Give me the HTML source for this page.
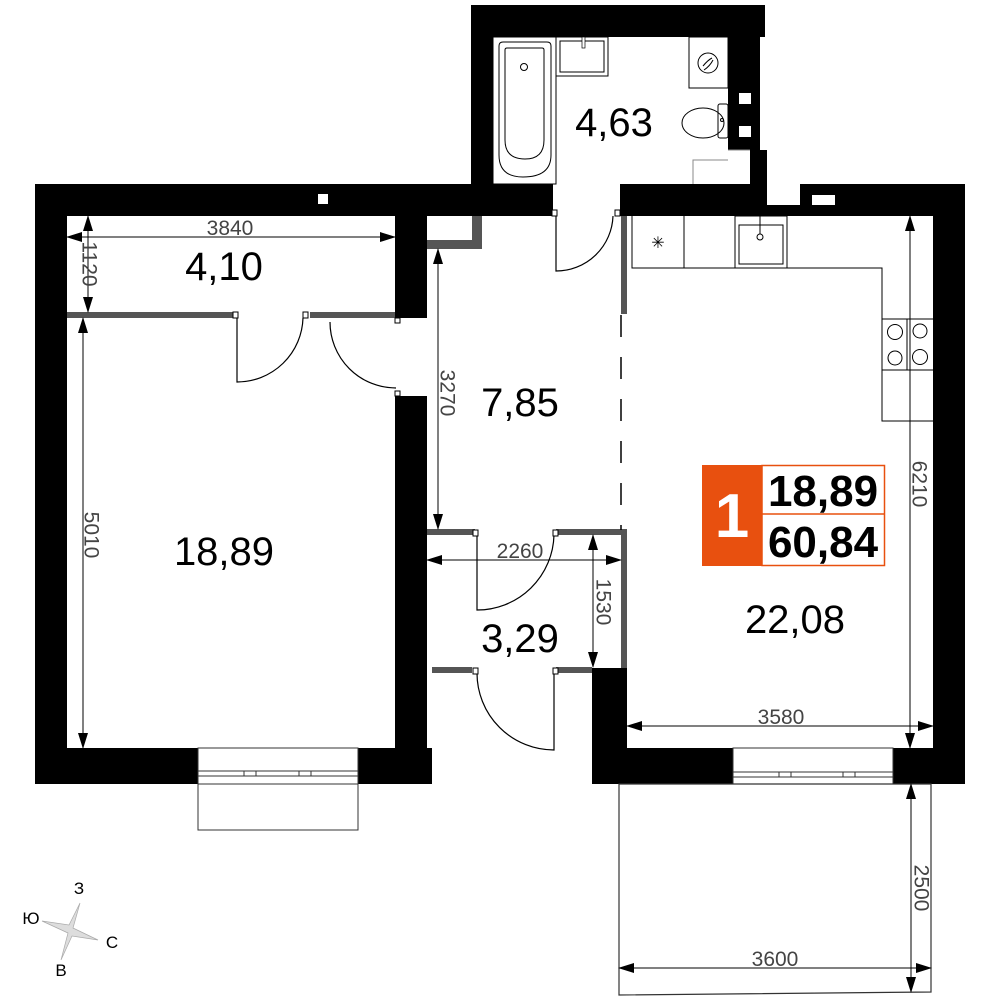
<!DOCTYPE html>
<html><head><meta charset="utf-8"><style>
html,body{margin:0;padding:0;background:#fff;}
svg{display:block;}
text{font-family:"Liberation Sans",sans-serif;}
</style></head><body>
<svg width="1000" height="1000" viewBox="0 0 1000 1000" xmlns="http://www.w3.org/2000/svg">
<rect width="1000" height="1000" fill="#fff"/>
<g fill="#000">
<rect x="35" y="184" width="397" height="32"/>
<rect x="35" y="184" width="32" height="600"/>
<rect x="395" y="184" width="32" height="134"/>
<rect x="395" y="396" width="32" height="388"/>
<rect x="35" y="748" width="163" height="36"/>
<rect x="358" y="748" width="74" height="36"/>
<rect x="471" y="5" width="294" height="32"/>
<rect x="471" y="5" width="22" height="211"/>
<rect x="728" y="5" width="32" height="145"/>
<rect x="750" y="150" width="17" height="40"/>
<rect x="427" y="184" width="126" height="32"/>
<rect x="620" y="184" width="147" height="32"/>
<rect x="767" y="205" width="33" height="11"/>
<rect x="800" y="184" width="165" height="32"/>
<rect x="933" y="184" width="32" height="600"/>
<rect x="592" y="668" width="35" height="116"/>
<rect x="592" y="748" width="141" height="36"/>
<rect x="893" y="748" width="72" height="36"/>
</g>
<g fill="#fff">
<rect x="318" y="194" width="10" height="10"/>
<rect x="812" y="195" width="23" height="10"/>
<rect x="739" y="93" width="12" height="11"/>
<rect x="739" y="126" width="12" height="11"/>
</g>
<g fill="#555">
<rect x="67" y="312" width="168" height="6"/>
<rect x="310" y="312" width="85" height="6"/>
<rect x="427" y="240" width="55" height="9"/>
<rect x="472" y="216" width="10" height="33"/>
<rect x="621" y="216" width="6" height="98"/>
<rect x="427" y="529" width="48" height="6"/>
<rect x="556" y="529" width="71" height="6"/>
<rect x="621" y="529" width="6" height="139"/>
<rect x="432" y="667" width="40" height="6"/>
<rect x="556" y="667" width="36" height="6"/>
</g>
<line x1="621" y1="315" x2="621" y2="530" stroke="#000" stroke-width="1.5" stroke-dasharray="22,20"/>
<g fill="none" stroke="#000" stroke-width="1.2">
<path d="M237 318 V382 A66 66 0 0 0 303 318"/>
<path d="M330 322 A66 66 0 0 0 396 388"/>
<path d="M556 216 V271 A57 57 0 0 0 613 216"/>
<path d="M477 535 V610 A77 77 0 0 0 554 535"/>
<path d="M477 673 A77 77 0 0 0 554 750 V673"/>
</g>
<g fill="#fff" stroke="#000" stroke-width="1">
<rect x="233" y="312" width="5" height="6"/><rect x="303" y="312" width="5" height="6"/>
<rect x="395" y="318" width="5" height="5"/><rect x="395" y="391" width="5" height="5"/>
<rect x="552" y="210" width="5" height="6"/><rect x="615" y="210" width="5" height="6"/>
<rect x="473" y="530" width="5" height="6"/><rect x="553" y="530" width="5" height="6"/>
<rect x="473" y="668" width="5" height="6"/><rect x="553" y="668" width="5" height="6"/>
</g>
<g fill="none" stroke="#000" stroke-width="1">
<rect x="493" y="37" width="63" height="147"/>
<path d="M499 46 Q499 42 503 42 H547 Q551 42 551 46 V155 Q551 177 523 177 Q499 177 499 155 Z"/>
<path d="M505 50 Q505 48 507 48 H542 Q544 48 544 50 V140 Q544 159 525 159 Q505 159 505 140 Z"/>
<circle cx="524" cy="67" r="3.5"/>
<rect x="556" y="37" width="52" height="39"/>
<rect x="560" y="41" width="44" height="31"/>
<rect x="689" y="37" width="39" height="51"/>
<circle cx="708" cy="63" r="10"/>
<path d="M703 66 Q708 60 712 58 M704 70 Q710 66 713 60"/>
<ellipse cx="703" cy="123" rx="21" ry="15"/>
<rect x="718" y="104" width="10" height="34" rx="2"/>
<polyline points="693,184 693,160 728,160" stroke="#888"/>
<polyline points="728,150 750,150" stroke="#888"/>
</g>
<circle cx="722" cy="120" r="1.5" fill="none" stroke="#000"/>
<rect x="582" y="37" width="3" height="11" fill="#fff" stroke="#000" stroke-width="0.7"/>
<g fill="none" stroke="#000" stroke-width="1">
<polyline points="632,216 632,268 882,268 882,421 933,421"/>
<line x1="684" y1="216" x2="684" y2="268"/>
<rect x="735" y="216" width="52" height="52"/>
<rect x="739" y="225" width="44" height="39"/>
<line x1="882" y1="319" x2="933" y2="319"/>
<line x1="882" y1="370" x2="933" y2="370"/>
<line x1="907" y1="319" x2="907" y2="370"/>
<circle cx="895" cy="332" r="7.5"/><circle cx="920" cy="331" r="7"/>
<circle cx="895" cy="358" r="7"/><circle cx="920" cy="357" r="7.5"/>
<circle cx="760" cy="237" r="3"/>
<line x1="760" y1="216" x2="760" y2="234"/>
</g>
<text x="658" y="248" font-size="16" text-anchor="middle">✳</text>
<g fill="#fff" stroke="#333" stroke-width="1">
<rect x="198" y="748" width="160" height="36"/>
<rect x="198" y="771" width="160" height="5"/>
<rect x="198" y="784" width="160" height="46"/>
<rect x="733" y="748" width="160" height="36"/>
<rect x="733" y="772" width="160" height="5"/>
</g>
<g stroke="#333" stroke-width="1">
<line x1="244" y1="771" x2="244" y2="776"/><line x1="256" y1="771" x2="256" y2="776"/>
<line x1="299" y1="771" x2="299" y2="776"/><line x1="311" y1="771" x2="311" y2="776"/>
<line x1="779" y1="772" x2="779" y2="777"/><line x1="791" y1="772" x2="791" y2="777"/>
<line x1="843" y1="772" x2="843" y2="777"/><line x1="855" y1="772" x2="855" y2="777"/>
</g>
<polygon points="619,784 931,784 931,992 619,995" fill="none" stroke="#333" stroke-width="1.2"/>
<defs><marker id="a" markerWidth="16" markerHeight="10" refX="15" refY="5" orient="auto-start-reverse" markerUnits="userSpaceOnUse"><path d="M0,0 L16,5 L0,10 Z" fill="#000"/></marker></defs>
<g stroke="#000" stroke-width="1" marker-start="url(#a)" marker-end="url(#a)">
<line x1="67" y1="237" x2="395" y2="237"/>
<line x1="88" y1="216" x2="88" y2="312"/>
<line x1="83" y1="318" x2="83" y2="748"/>
<line x1="438" y1="249" x2="438" y2="529"/>
<line x1="427" y1="560" x2="621" y2="560"/>
<line x1="593" y1="535" x2="593" y2="667"/>
<line x1="627" y1="726" x2="933" y2="726"/>
<line x1="910" y1="216" x2="910" y2="748"/>
<line x1="911" y1="784" x2="911" y2="992"/>
<line x1="619" y1="968" x2="931" y2="968"/>
</g>
<g fill="#444" font-size="21">
<text x="230" y="235" text-anchor="middle">3840</text>
<text transform="translate(88,264) rotate(90)" text-anchor="middle" dominant-baseline="middle">1120</text>
<text transform="translate(90,535) rotate(90)" text-anchor="middle" dominant-baseline="middle">5010</text>
<text transform="translate(446,393) rotate(90)" text-anchor="middle" dominant-baseline="middle">3270</text>
<text x="520" y="558" text-anchor="middle">2260</text>
<text transform="translate(602,602) rotate(90)" text-anchor="middle" dominant-baseline="middle">1530</text>
<text x="781" y="724" text-anchor="middle">3580</text>
<text transform="translate(918,484) rotate(90)" text-anchor="middle" dominant-baseline="middle">6210</text>
<text transform="translate(920,888) rotate(90)" text-anchor="middle" dominant-baseline="middle">2500</text>
<text x="775" y="966" text-anchor="middle">3600</text>
</g>
<g font-size="40" fill="#000" text-anchor="middle">
<text x="614" y="136">4,63</text>
<text x="224" y="280">4,10</text>
<text x="520" y="416">7,85</text>
<text x="224" y="565">18,89</text>
<text x="520" y="652">3,29</text>
<text x="795" y="633">22,08</text>
</g>
<rect x="702" y="465" width="60" height="101" fill="#e8500f"/>
<rect x="762" y="465.5" width="122.5" height="100" fill="#fff" stroke="#e8500f" stroke-width="1.5"/>
<line x1="762" y1="514" x2="884" y2="514" stroke="#e8500f" stroke-width="1.5"/>
<text x="732" y="537" font-size="62" font-weight="bold" fill="#fff" text-anchor="middle">1</text>
<text x="823" y="506" font-size="44" font-weight="bold" text-anchor="middle">18,89</text>
<text x="823" y="557" font-size="44" font-weight="bold" text-anchor="middle">60,84</text>
<polygon points="80,903 73,928 98,940 72,936 61,960 68,933 42,921 69,925" fill="#ddd" stroke="#aaa" stroke-width="0.7"/>
<g font-size="17" fill="#000" text-anchor="middle">
<text x="79" y="894">З</text>
<text x="31" y="924">Ю</text>
<text x="112" y="948">С</text>
<text x="61" y="976">В</text>
</g>
</svg>
</body></html>
